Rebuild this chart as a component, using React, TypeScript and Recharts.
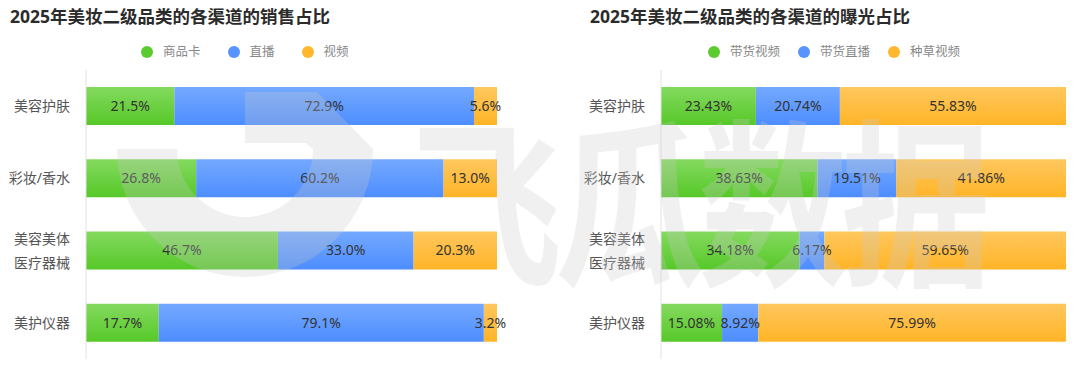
import React from 'react';
import { BarChart, Bar, XAxis, YAxis, LabelList } from 'recharts';

const categories = ['美容护肤', '彩妆/香水', '美容美体\n医疗器械', '美护仪器'];

const salesSeries = ['商品卡', '直播', '视频'];
const salesCard = [21.5, 26.8, 46.7, 17.7];
const salesLive = [72.9, 60.2, 33.0, 79.1];
const salesVideo = [5.6, 13.0, 20.3, 3.2];

const exposureSeries = ['带货视频', '带货直播', '种草视频'];
const exposureVideo = [23.43, 38.63, 34.18, 15.08];
const exposureLive = [20.74, 19.51, 6.17, 8.92];
const exposureSeed = [55.83, 41.86, 59.65, 75.99];

const COLORS = ['#5ccb2f', '#5794ff', '#ffb82e'];
const FILLS = ['url(#gGreen)', 'url(#gBlue)', 'url(#gOrange)'];
const FONT = '"Noto Sans", "Noto Sans CJK SC", sans-serif';

const salesData = categories.map((name, i) => ({ name, a: salesCard[i], b: salesLive[i], c: salesVideo[i] }));
const exposureData = categories.map((name, i) => ({ name, a: exposureVideo[i], b: exposureLive[i], c: exposureSeed[i] }));

const CategoryTick = (props: any) => {
  const { x, y, payload } = props;
  const lines = String(payload.value).split('\n');
  const start = -((lines.length - 1) * 24) / 2;
  return (
    <g>
      {lines.map((l, i) => (
        <text key={i} x={x - 8} y={y + start + i * 24} dy={5} textAnchor="end" fontSize={14} fill="#555" fontFamily={FONT}>
          {l}
        </text>
      ))}
    </g>
  );
};

const Panel = ({ left, title, titleX, series, data, digits, axisWidth, marginRight, legendX, legendGap }: any) => {
  const fmt = (v: any) => `${Number(v).toFixed(digits)}%`;
  return (
    <div style={{ position: 'absolute', left, top: 0, width: 540, height: 368 }}>
      <div style={{ position: 'absolute', left: titleX, top: 3, fontSize: 17.5, fontWeight: 700, color: '#2b2b2b', fontFamily: FONT, whiteSpace: 'nowrap' }}>
        {title}
      </div>
      <div style={{ position: 'absolute', left: legendX, top: 42, display: 'flex', gap: legendGap, fontFamily: FONT }}>
        {series.map((s: string, i: number) => (
          <div key={s} style={{ display: 'flex', alignItems: 'center' }}>
            <span style={{ width: 12, height: 12, borderRadius: 6, background: COLORS[i], display: 'inline-block', marginRight: 10 }} />
            <span style={{ fontSize: 12.5, color: '#888', lineHeight: '20px' }}>{s}</span>
          </div>
        ))}
      </div>
      <BarChart width={540} height={368} data={data} layout="vertical" margin={{ top: 70, right: marginRight, bottom: 9, left: 0 }}>
        <XAxis type="number" domain={[0, 100]} hide />
        <YAxis type="category" dataKey="name" width={axisWidth} axisLine={{ stroke: '#e2e2e2' }} tickLine={false} tick={<CategoryTick />} interval={0} />
        {['a', 'b', 'c'].map((k, i) => (
          <Bar key={k} dataKey={k} stackId="s" fill={FILLS[i]} barSize={38} isAnimationActive={false}>
            <LabelList dataKey={k} position="center" formatter={fmt} fill="#333" fontSize={14} fontFamily={FONT} />
          </Bar>
        ))}
      </BarChart>
    </div>
  );
};

export default function App() {
  return (
    <div style={{ position: 'absolute', left: 0, top: 0, width: 1080, height: 368, background: '#fff', overflow: 'hidden' }}>
      <svg width={0} height={0} style={{ position: 'absolute' }}>
        <defs>
          <linearGradient id="gGreen" x1="0" y1="0" x2="0" y2="1">
            <stop offset="0%" stopColor="#84da5f" />
            <stop offset="100%" stopColor="#56c828" />
          </linearGradient>
          <linearGradient id="gBlue" x1="0" y1="0" x2="0" y2="1">
            <stop offset="0%" stopColor="#74a9ff" />
            <stop offset="100%" stopColor="#4d8dff" />
          </linearGradient>
          <linearGradient id="gOrange" x1="0" y1="0" x2="0" y2="1">
            <stop offset="0%" stopColor="#ffc75e" />
            <stop offset="100%" stopColor="#ffb426" />
          </linearGradient>
        </defs>
      </svg>
      <Panel left={0} title="2025年美妆二级品类的各渠道的销售占比" titleX={10} series={salesSeries} data={salesData} digits={1}
        axisWidth={86} marginRight={43} legendX={141} legendGap={27} />
      <Panel left={540} title="2025年美妆二级品类的各渠道的曝光占比" titleX={50} series={exposureSeries} data={exposureData} digits={2}
        axisWidth={121} marginRight={14} legendX={168} legendGap={18} />
      {/* watermark */}
      <svg width={1080} height={368} style={{ position: 'absolute', left: 0, top: 0, pointerEvents: 'none' }}>
        <g fill="rgba(200,200,200,0.28)">
          <path d="M 117 149 A 128 128 0 0 0 373 149 L 313 149 A 68 68 0 0 1 177 149 Z" />
          <path d="M 245 92 L 317 92 L 373 149 L 313 149 L 306 143 L 245 143 Z" />
        </g>
      </svg>
      <div style={{ position: 'absolute', left: 412, top: 104, fontSize: 150, lineHeight: 1, fontWeight: 700, letterSpacing: -7,
        color: 'rgba(200,200,200,0.28)', fontFamily: '"Noto Sans CJK SC", sans-serif', transform: 'scaleY(1.2)', transformOrigin: 'top left',
        whiteSpace: 'nowrap', pointerEvents: 'none' }}>
        飞瓜数据
      </div>
    </div>
  );
}
